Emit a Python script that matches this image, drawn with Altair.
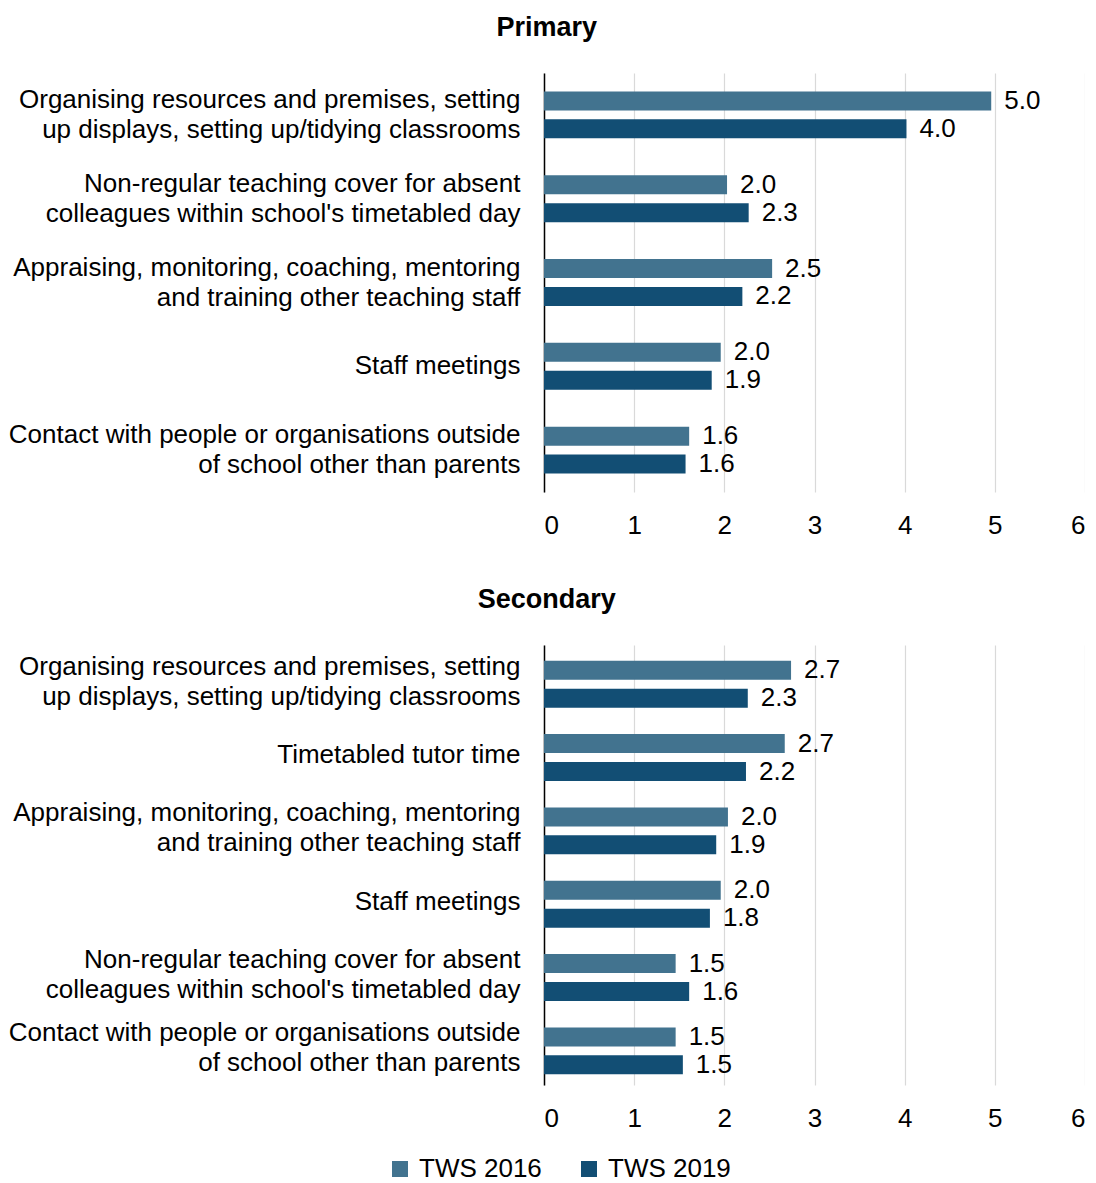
import altair as alt
import pandas as pd

SERIES = ["TWS 2016", "TWS 2019"]
COLORS = ["#42738f", "#124e74"]

primary_cats = [
    "Organising resources and premises, setting|up displays, setting up/tidying classrooms",
    "Non-regular teaching cover for absent|colleagues within school's timetabled day",
    "Appraising, monitoring, coaching, mentoring|and training other teaching staff",
    "Staff meetings",
    "Contact with people or organisations outside|of school other than parents",
]
primary_2016 = [4.96, 2.03, 2.53, 1.96, 1.61]
primary_2019 = [4.02, 2.27, 2.20, 1.86, 1.57]

secondary_cats = [
    "Organising resources and premises, setting|up displays, setting up/tidying classrooms",
    "Timetabled tutor time",
    "Appraising, monitoring, coaching, mentoring|and training other teaching staff",
    "Staff meetings",
    "Non-regular teaching cover for absent|colleagues within school's timetabled day",
    "Contact with people or organisations outside|of school other than parents",
]
secondary_2016 = [2.74, 2.67, 2.04, 1.96, 1.46, 1.46]
secondary_2019 = [2.26, 2.24, 1.91, 1.84, 1.61, 1.54]

x_ticks = [0, 1, 2, 3, 4, 5, 6]

FS = 26


def panel(title, cats, v16, v19, height, pad_inner, pad_outer):
    df = pd.DataFrame({
        "activity": cats * 2,
        "series": [SERIES[0]] * len(cats) + [SERIES[1]] * len(cats),
        "value": v16 + v19,
    })
    base = alt.Chart(df).encode(
        y=alt.Y(
            "activity:N", sort=cats, title=None,
            scale=alt.Scale(paddingInner=pad_inner, paddingOuter=pad_outer),
            axis=alt.Axis(
                labelExpr="split(datum.label, '|')",
                labelOffset={
                    "condition": {"test": "indexof(datum.value, '|') >= 0", "value": -15},
                    "value": 0,
                },
                labelLineHeight=30, labelFontSize=FS, labelLimit=700,
                labelPadding=24, ticks=False, domain=True,
                domainColor="#000000", domainWidth=1.5, grid=False,
                labelColor="#000000",
            ),
        ),
        yOffset=alt.YOffset(
            "series:N", sort=SERIES,
            scale=alt.Scale(paddingInner=0.32, paddingOuter=0),
        ),
        x=alt.X(
            "value:Q", title=None,
            scale=alt.Scale(domain=[0, 6], nice=False),
            axis=alt.Axis(
                values=x_ticks, format="d", domain=False, ticks=False,
                grid=True, gridColor="#d9d9d9", gridWidth=1.2,
                labelFontSize=FS, labelPadding=20, labelColor="#000000",
                labelFlush=3,
            ),
        ),
    )
    bars = base.mark_bar().encode(
        color=alt.Color(
            "series:N",
            scale=alt.Scale(domain=SERIES, range=COLORS),
            legend=alt.Legend(
                title=None, orient="none", direction="horizontal",
                legendX=-157, legendY=1083,
                symbolType="square", symbolSize=256, symbolStrokeWidth=0,
                labelFontSize=FS, labelColor="#000000", columnPadding=34,
                labelOffset=6,
            ),
        )
    )
    text = base.mark_text(
        align="left", baseline="middle", dx=13, fontSize=FS, color="#000000"
    ).encode(text=alt.Text("value:Q", format=".1f"))
    return alt.layer(bars, text).properties(
        width=541, height=height,
        title=alt.TitleParams(
            title, fontSize=27, fontWeight="bold", anchor="middle",
            frame="bounds", offset=31, color="#000000",
        ),
    )


p1 = panel("Primary", primary_cats, primary_2016, primary_2019, 419, 0.44, 0.22)
p2 = panel("Secondary", secondary_cats, secondary_2016, secondary_2019, 440, 0.43, 0.215)

chart = alt.vconcat(p1, p2, spacing=48).properties(
    padding={"left": 0, "top": 6, "right": 0, "bottom": 0}
).configure(
    font="Liberation Sans"
).configure_view(stroke=None)

chart.save("out.html", embed_options={"renderer": "svg", "actions": False})
